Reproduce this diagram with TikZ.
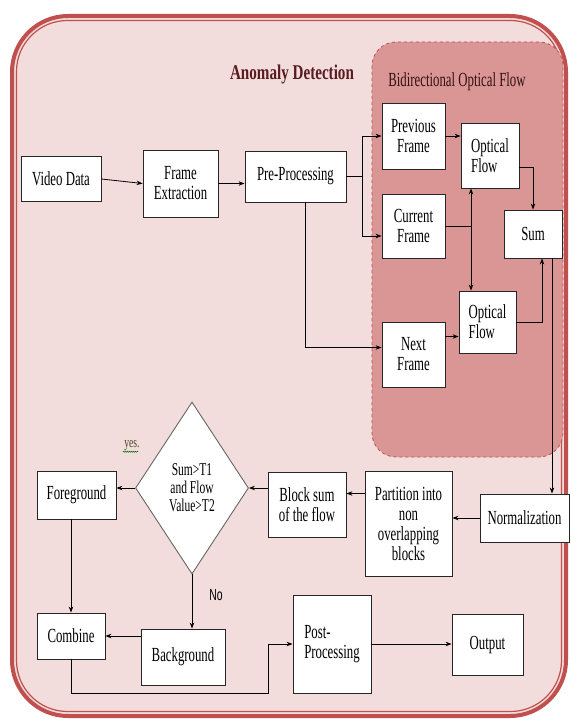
\documentclass[tikz,border=0pt]{standalone}
\usepackage{fontspec}
\setmainfont{Liberation Serif}[FakeStretch=0.64]
\newfontfamily\titlefont{Liberation Serif}[FakeStretch=0.72]
\newfontfamily\notefont{Liberation Sans}[FakeStretch=0.65]
\usepackage{tikz}
\usetikzlibrary{arrows.meta,shapes.geometric,decorations.pathmorphing}
\definecolor{outerfill}{RGB}{242,220,220}
\definecolor{outerline}{RGB}{192,80,77}
\definecolor{flowfill}{RGB}{217,150,148}
\definecolor{titlecol}{RGB}{88,28,34}
\definecolor{yescol}{RGB}{70,72,40}
\tikzstyle{block} = [rectangle, draw=black!85, line width=0.9pt, fill=white, align=center, inner sep=2pt, font=\fontsize{20}{20}\selectfont]
\tikzstyle{decision} = [diamond, draw=black!60, line width=0.9pt, fill=white, align=center, inner sep=0pt, font=\fontsize{18}{18}\selectfont]
\tikzset{edge/.style = {
    >=Stealth,
    -{>[scale=0.9]},
    line width=0.8pt,
  }
}

\begin{document}
\begin{tikzpicture}[x=1pt, y=-1pt]
            \useasboundingbox (0,0) rectangle (570,722);
            % frames
            \draw[outerline, line width=4pt, fill=outerfill, rounded corners=56pt] (12,16) rectangle (566,716);
            \draw[outerline, line width=1.2pt, rounded corners=51pt] (16.5,20.5) rectangle (561.5,711.5);
            \draw[outerline, dashed, line width=0.8pt, fill=flowfill, rounded corners=24pt] (372,42) rectangle (563,457);

            \node[font=\titlefont\bfseries\fontsize{21}{21}\selectfont, text=titlecol] (title) at (292,74) {Anomaly Detection};
            \node[font=\fontsize{20}{20}\selectfont, text=titlecol!60!black] (flowtitle) at (457,82) {Bidirectional Optical Flow};

            % vertices
            \node[block, minimum width=80pt, minimum height=45pt] (video) at (61,179) {Video Data};
            \node[block, minimum width=75pt, minimum height=67pt] (frames) at (180.5,183.5) {Frame\\Extraction};
            \node[block, minimum width=101pt, minimum height=51pt] (preproc) at (295.5,176.5) {Pre-Processing};
            \node[block, minimum width=63pt, minimum height=66pt] (prev) at (413.5,136) {Previous\\Frame};
            \node[block, minimum width=63pt, minimum height=64pt] (cur) at (413.5,226) {Current\\Frame};
            \node[block, minimum width=63pt, minimum height=65pt] (next) at (413.5,354.5) {Next\\Frame};
            \node[block, align=left, minimum width=58pt, minimum height=65pt] (flowa) at (490,155.5) {Optical\\Flow};
            \node[block, align=left, minimum width=57pt, minimum height=62pt] (flowb) at (487.5,322) {Optical\\Flow};
            \node[block, minimum width=58pt, minimum height=48pt] (sum) at (533,234) {Sum};
            \node[block, minimum width=89pt, minimum height=48pt] (norm) at (524.5,518) {Normalization};
            \node[block, minimum width=87pt, minimum height=105pt] (partition) at (408.5,523.5) {Partition into\\non\\overlapping\\blocks};
            \node[block, minimum width=78pt, minimum height=65pt] (blocksum) at (307,504.5) {Block sum\\of the flow};
            \node[decision, minimum width=113pt, minimum height=172pt] (check) at (192,488) {Sum>T1\\and Flow\\Value>T2};
            \node[block, minimum width=79pt, minimum height=48pt] (fg) at (76.5,495) {Foreground};
            \node[block, minimum width=68pt, minimum height=46pt] (combine) at (71,636) {Combine};
            \node[block, minimum width=84pt, minimum height=56pt] (background) at (183,657) {Background};
            \node[block, align=left, minimum width=78pt, minimum height=98pt] (postproc) at (332,644) {Post-\\Processing};
            \node[block, minimum width=71pt, minimum height=61pt] (output) at (487.5,644.5) {Output};

            \node[font=\fontsize{15}{15}\selectfont, text=yescol] (yes) at (132,446) {yes.};
            \draw[green!45!black, line width=0.5pt, decorate, decoration={snake, amplitude=0.5pt, segment length=2pt}] ([xshift=2pt, yshift=3pt]yes.south west) -- ([xshift=-5pt, yshift=3pt]yes.south east);
            \node[font=\notefont\fontsize{16}{16}\selectfont] (no) at (216,595) {No};

            %edges
            \coordinate (fork) at (362,176.5);
            \coordinate (curfork) at (471,226);
            \coordinate (detour) at (268,693);
            \draw[edge] (video.east) to (frames.west);
            \draw[edge] (frames.east) to (frames.east -| preproc.west);
            \draw[edge, -] (preproc.east) to (fork);
            \draw[edge] (fork) |- (prev.west);
            \draw[edge] (fork) |- ([yshift=-10pt]cur.west);
            \draw[edge] ([xshift=10pt]preproc.south) |- ([yshift=7pt]next.west);
            \draw[edge] (prev.east) to (prev.east -| flowa.west);
            \draw[edge] ([yshift=-12pt]flowa.east) -| (sum.north);
            \draw[edge, -] (cur.east) to (curfork);
            \draw[edge] (curfork) to (curfork |- flowa.south);
            \draw[edge] (curfork) to (curfork |- flowb.north);
            \draw[edge] ([yshift=18pt]next.east) to ([yshift=18pt]next.east -| flowb.west);
            \draw[edge] (flowb.east) -| ([xshift=9pt]sum.south);
            \draw[edge] ([xshift=19pt]sum.south) to ([xshift=19pt]sum.south |- norm.north);
            \draw[edge] (norm.west) to (norm.west -| partition.east);
            \draw[edge] ([yshift=11pt]blocksum.east -| partition.west) to ([yshift=11pt]blocksum.east);
            \draw[edge] (blocksum.west |- check.east) to (check.east);
            \draw[edge] (check.west) to (check.west -| fg.east);
            \draw[edge] (fg.south -| combine.north) to (combine.north);
            \draw[edge] (check.south) to (check.south |- background.north);
            \draw[edge] (background.west |- combine.east) to (combine.east);
            \draw[edge] (combine.south) |- (detour) |- (postproc.west);
            \draw[edge] (postproc.east) to (postproc.east -| output.west);
\end{tikzpicture}
\end{document}
